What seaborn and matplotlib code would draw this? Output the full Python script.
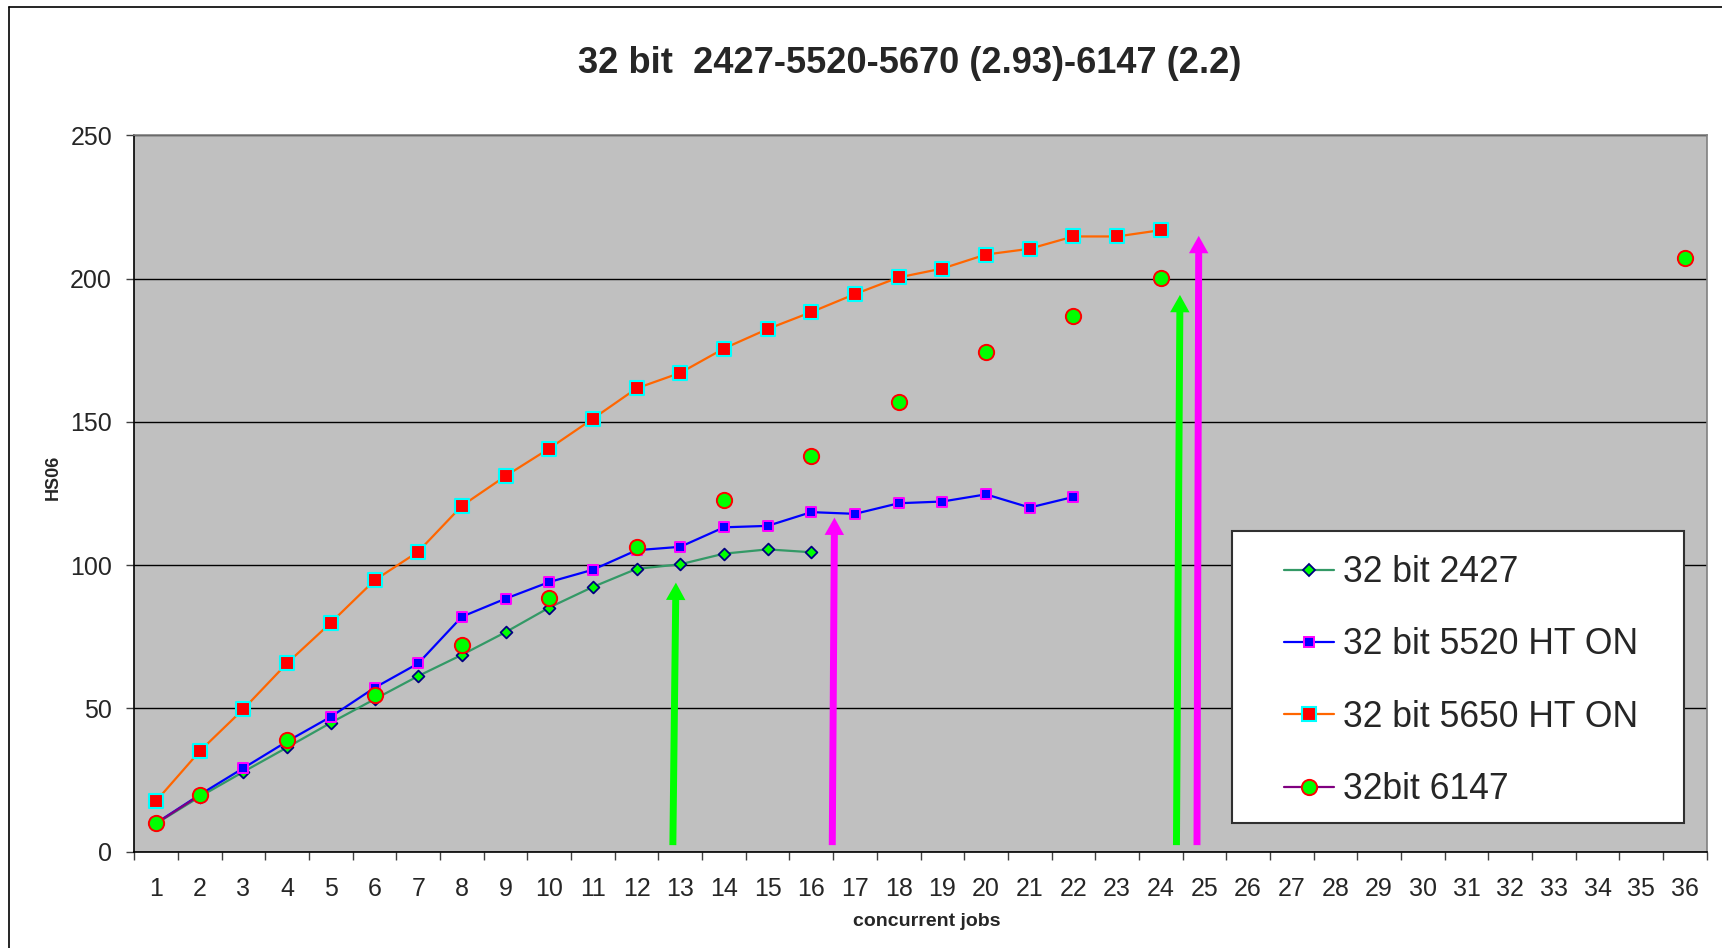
import numpy as np
import pandas as pd
import matplotlib
matplotlib.use("Agg")
import matplotlib.pyplot as plt
from matplotlib.lines import Line2D
from matplotlib.patches import Rectangle
import seaborn as sns

# ---- data -------------------------------------------------------------
jobs = list(range(1, 37))
tick_labels = [str(j) for j in jobs]

jobs_2427 = list(range(1, 17))
hs06_2427 = [9.8, 19.2, 27.9, 36.4, 45.0, 53.2, 61.3, 68.7, 76.6, 85.2,
             92.4, 98.7, 100.3, 104.0, 105.5, 104.5]

jobs_5520 = list(range(1, 23))
hs06_5520 = [10.0, 19.9, 29.2, 38.5, 47.1, 57.2, 65.7, 82.0, 88.3, 94.1,
             98.4, 105.2, 106.4, 113.2, 113.7, 118.5, 117.9, 121.6, 122.2,
             124.7, 120.1, 123.8]

jobs_5650 = list(range(1, 25))
hs06_5650 = [17.7, 35.1, 49.8, 65.8, 79.9, 94.7, 104.7, 120.7, 131.1, 140.7,
             151.1, 161.7, 167.1, 175.6, 182.4, 188.3, 194.6, 200.4, 203.5,
             208.4, 210.4, 214.7, 214.7, 216.9]

jobs_6147 = [1, 2, 4, 6, 8, 10, 12, 14, 16, 18, 20, 22, 24, 36]
hs06_6147 = [9.9, 19.7, 39.0, 54.7, 72.0, 88.4, 106.4, 122.7, 138.1, 157.1,
             174.4, 187.1, 200.3, 207.2]

series_names = ["32 bit 2427", "32 bit 5520 HT ON", "32 bit 5650 HT ON", "32bit 6147"]

# arrows (base -> tip, in data units) marking where the cores saturate
arrows = [
    ((12.83, 2.3), (12.90, 93.9), "#00FF00"),
    ((16.48, 2.3), (16.53, 116.6), "#FF00FF"),
    ((24.36, 2.3), (24.44, 194.3), "#00FF00"),
    ((24.83, 2.3), (24.87, 214.9), "#FF00FF"),
]

# ---- styles -----------------------------------------------------------
styles = [
    dict(color="#339966", marker="D", markersize=6.0, markerfacecolor="#00FF00",
         markeredgecolor="#000080", markeredgewidth=1.3, linewidth=1.6),
    dict(color="#0000FF", marker="s", markersize=6.5, markerfacecolor="#0000FF",
         markeredgecolor="#FF00FF", markeredgewidth=1.4, linewidth=1.6),
    dict(color="#FF6600", marker="s", markersize=10.5, markerfacecolor="#FF0000",
         markeredgecolor="#00FFFF", markeredgewidth=1.5, linewidth=1.6),
    dict(color="#800080", marker="o", markersize=11.0, markerfacecolor="#00FF00",
         markeredgecolor="#FF0000", markeredgewidth=1.4, linewidth=1.6),
]

sns.set_style("white")
plt.rcParams["font.family"] = ["Liberation Sans", "DejaVu Sans"]

W, H = 1722, 948
fig = plt.figure(figsize=(W / 100, H / 100), dpi=100)
fig.patch.set_facecolor("white")

AX_L, AX_R, AX_T, AX_B = 134.3, 1706.7, 135.3, 851.7
ax = fig.add_axes([AX_L / W, 1 - AX_B / H, (AX_R - AX_L) / W, (AX_B - AX_T) / H])
ax.set_facecolor("#C0C0C0")


def ax_frac(px, py):
    """pixel position (from top-left of the figure) -> axes fraction"""
    return (px - AX_L) / (AX_R - AX_L), (AX_B - py) / (AX_B - AX_T)


# chart-area border (top and left edges)
fig.add_artist(Line2D([9.3 / W, 9.3 / W], [0, 1 - 6.7 / H], color="black", lw=1.2))
fig.add_artist(Line2D([9.3 / W, 1], [1 - 6.7 / H, 1 - 6.7 / H], color="black", lw=1.2))


def draw_series(x, y, style, z):
    df = pd.DataFrame({"jobs": x, "hs06": y})
    # split into runs of consecutive job counts; gaps are not joined
    run_id = (df["jobs"].diff() != 1).cumsum()
    for _, run in df.groupby(run_id):
        if len(run) > 1:
            sns.lineplot(data=run, x="jobs", y="hs06", ax=ax, color=style["color"],
                         linewidth=style["linewidth"], zorder=z, legend=False)
    sns.scatterplot(data=df, x="jobs", y="hs06", ax=ax, marker=style["marker"],
                    s=style["markersize"] ** 2, color=style["markerfacecolor"],
                    edgecolor=style["markeredgecolor"],
                    linewidth=style["markeredgewidth"], zorder=z + 0.5, legend=False)


all_series = [(jobs_2427, hs06_2427), (jobs_5520, hs06_5520),
              (jobs_5650, hs06_5650), (jobs_6147, hs06_6147)]
for i, ((x, y), st) in enumerate(zip(all_series, styles)):
    draw_series(x, y, st, 3 + i)

# axes & grid
ax.set_xlim(0.5, 36.5)
ax.set_ylim(0, 250)
ax.set_yticks(np.arange(0, 251, 50))
ax.yaxis.grid(True, color="black", linewidth=1.0, zorder=0)
ax.set_axisbelow(True)

ax.set_xticks(np.arange(0.5, 36.6, 1))
ax.set_xticklabels([])
ax.set_xticks(jobs, minor=True)
ax.set_xticklabels(tick_labels, minor=True)
ax.tick_params(axis="x", which="major", direction="out", length=6, width=1.0,
               color="#404040", bottom=True)
ax.tick_params(axis="x", which="minor", length=0, pad=18, labelsize=18, bottom=True)
ax.tick_params(axis="y", which="major", direction="out", length=6, width=1.0,
               color="#404040", pad=10, labelsize=18, left=True)

for side in ["left", "bottom"]:
    ax.spines[side].set_color("black")
    ax.spines[side].set_linewidth(1.2)
for side in ["top", "right"]:
    ax.spines[side].set_color("#808080")
    ax.spines[side].set_linewidth(1.2)

ax.set_xlabel("")
ax.set_ylabel("")
fig.text(927 / W, 1 - 921 / H, "concurrent jobs", ha="center", va="center",
         fontsize=14, fontweight="bold")
fig.text(53 / W, 1 - 477 / H, "HS06", ha="center", va="center", rotation=90,
         fontsize=13, fontweight="bold")
fig.text(909.5 / W, 1 - 63.7 / H, "32 bit  2427-5520-5670 (2.93)-6147 (2.2)",
         ha="center", va="center", fontsize=26.1, fontweight="bold")

# arrows
for (x0, y0), (x1, y1), c in arrows:
    ax.annotate("", xy=(x1, y1), xytext=(x0, y0),
                arrowprops=dict(arrowstyle="simple,head_length=1.25,head_width=1.4,tail_width=0.5",
                                mutation_scale=10, color=c, shrinkA=0, shrinkB=0, lw=0),
                zorder=8)

# legend with a square white frame
x0, y1 = ax_frac(1232.4, 531.3)
x1, y0 = ax_frac(1683.5, 822.5)
ax.add_patch(Rectangle((x0, y0), x1 - x0, y1 - y0, transform=ax.transAxes,
                       facecolor="white", edgecolor="#303030", linewidth=1.5,
                       zorder=9))
handles = [Line2D([], [], label=name, **st) for name, st in zip(series_names, styles)]
leg = ax.legend(handles=handles, loc="upper left", frameon=False,
                bbox_to_anchor=ax_frac(1284, 555),
                fontsize=25.6, handlelength=1.4, handletextpad=0.25,
                labelspacing=1.05, borderpad=0, borderaxespad=0)
leg.set_zorder(10)

fig.savefig("out.png", dpi=100)
